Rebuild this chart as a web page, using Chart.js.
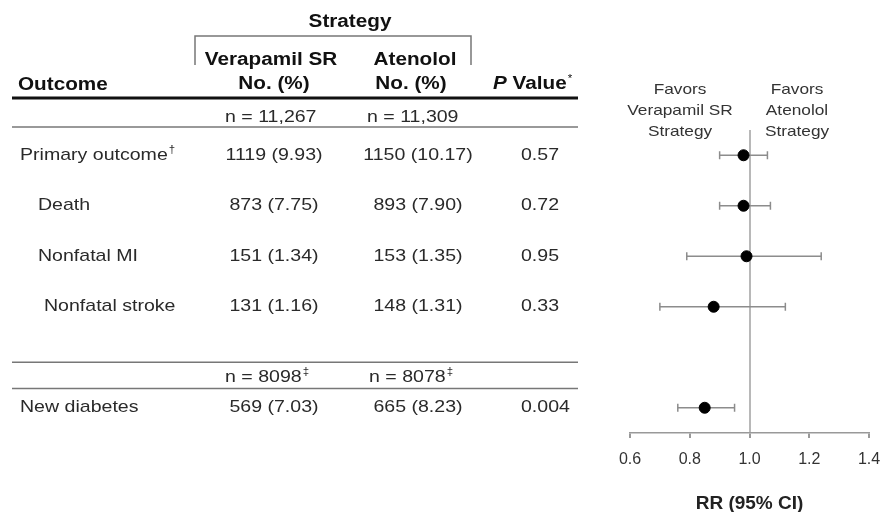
<!DOCTYPE html>
<html>
<head>
<meta charset="utf-8">
<script src="https://cdn.jsdelivr.net/npm/chart.js@4.4.1/dist/chart.umd.min.js"></script>
<style>
  html, body { margin: 0; padding: 0; background: #fff; }
  #wrap { width: 883px; height: 512px; position: relative; }
</style>
</head>
<body>
<div id="wrap"><canvas id="forest" width="883" height="512"></canvas></div>
<script>
// table + forest data
const outcomes = ['Primary outcome', 'Death', 'Nonfatal MI', 'Nonfatal stroke', 'New diabetes'];
const outcomeNotes = ['†', '', '', '', ''];
const rowIndex = [0, 1, 2, 3, 5];
const verapamilCounts = ['1119 (9.93)', '873 (7.75)', '151 (1.34)', '131 (1.16)', '569 (7.03)'];
const atenololCounts = ['1150 (10.17)', '893 (7.90)', '153 (1.35)', '148 (1.31)', '665 (8.23)'];
const pValues = ['0.57', '0.72', '0.95', '0.33', '0.004'];
const riskRatios = [0.98, 0.98, 0.99, 0.88, 0.85];
const ciLower = [0.90, 0.90, 0.79, 0.70, 0.76];
const ciUpper = [1.06, 1.07, 1.24, 1.12, 0.95];
const groupSizes = ['n = 11,267', 'n = 11,309'];
const diabetesGroupSizes = ['n = 8098', 'n = 8078'];
const xTicks = [0.6, 0.8, 1.0, 1.2, 1.4];

const FONT = '"Liberation Sans", Arial, sans-serif';
const SX = 1.15; // source text is a bit wide

function drawText(ctx, str, x, y, opts) {
    const o = Object.assign({ size: 17, weight: 'normal', style: 'normal', align: 'left', color: '#2a2a2a' }, opts);
    ctx.save();
    ctx.font = `${o.style} ${o.weight} ${o.size}px ${FONT}`;
    ctx.fillStyle = o.color;
    ctx.textBaseline = 'middle';
    ctx.textAlign = 'left';
    const w = ctx.measureText(str).width * SX;
    let left = x;
    if (o.align === 'center') left = x - w / 2;
    else if (o.align === 'right') left = x - w;
    ctx.translate(left, y);
    ctx.scale(SX, 1);
    ctx.fillText(str, 0, 0);
    ctx.restore();
    return left + w;
}

function hLine(ctx, x1, x2, y, width, color) {
    ctx.save();
    ctx.strokeStyle = color;
    ctx.lineWidth = width;
    ctx.beginPath();
    ctx.moveTo(x1, y);
    ctx.lineTo(x2, y);
    ctx.stroke();
    ctx.restore();
}

const tablePlugin = {
    id: 'outcomeTable',
    afterDraw(chart) {
        const ctx = chart.ctx;
        const yScale = chart.scales.y;
        const bold = { weight: 'bold', size: 18, color: '#111' };

        // header
        drawText(ctx, 'Strategy', 350, 22, Object.assign({}, bold, { align: 'center' }));
        ctx.save();
        ctx.strokeStyle = '#777';
        ctx.lineWidth = 1.5;
        ctx.beginPath();
        ctx.moveTo(195, 65); ctx.lineTo(195, 36); ctx.lineTo(471, 36); ctx.lineTo(471, 65);
        ctx.stroke();
        ctx.restore();
        drawText(ctx, 'Verapamil SR', 271, 60, Object.assign({}, bold, { align: 'center' }));
        drawText(ctx, 'No. (%)', 274, 84, Object.assign({}, bold, { align: 'center' }));
        drawText(ctx, 'Atenolol', 415, 60, Object.assign({}, bold, { align: 'center' }));
        drawText(ctx, 'No. (%)', 411, 84, Object.assign({}, bold, { align: 'center' }));
        drawText(ctx, 'Outcome', 18, 85, bold);
        let px = drawText(ctx, 'P', 493, 84, Object.assign({}, bold, { style: 'italic' }));
        px = drawText(ctx, ' Value', px, 84, bold);
        drawText(ctx, '*', px + 1, 79, { size: 10, color: '#111' });

        hLine(ctx, 12, 578, 98, 3, '#111');
        drawText(ctx, groupSizes[0], 225, 117);
        drawText(ctx, groupSizes[1], 367, 117);
        hLine(ctx, 12, 578, 127, 1.5, '#777');

        // body rows
        const indent = [20, 38, 38, 44, 20];
        outcomes.forEach((name, i) => {
            const y = yScale.getPixelForValue(rowIndex[i]);
            const end = drawText(ctx, name, indent[i], y);
            if (outcomeNotes[i]) drawText(ctx, outcomeNotes[i], end + 1, y - 5, { size: 10 });
            drawText(ctx, verapamilCounts[i], 274, y, { align: 'center' });
            drawText(ctx, atenololCounts[i], 418, y, { align: 'center' });
            drawText(ctx, pValues[i], 521, y);
        });

        // diabetes subgroup sizes
        hLine(ctx, 12, 578, yScale.getPixelForValue(4.1), 1.5, '#777');
        const ny = yScale.getPixelForValue(4.4);
        let e = drawText(ctx, diabetesGroupSizes[0], 225, ny);
        drawText(ctx, '‡', e + 1, ny - 5, { size: 10 });
        e = drawText(ctx, diabetesGroupSizes[1], 369, ny);
        drawText(ctx, '‡', e + 1, ny - 5, { size: 10 });
        hLine(ctx, 12, 578, yScale.getPixelForValue(4.62), 1.5, '#777');

        // favors labels
        const fav = { size: 15, color: '#333', align: 'center' };
        ['Favors', 'Verapamil SR', 'Strategy'].forEach((t, k) => drawText(ctx, t, 680, 90 + k * 21, fav));
        ['Favors', 'Atenolol', 'Strategy'].forEach((t, k) => drawText(ctx, t, 797, 90 + k * 21, fav));
    }
};

// one line dataset per CI, with vertical caps at the ends
const ciDatasets = outcomes.map((name, i) => ({
    type: 'line',
    label: name + ' CI',
    data: [{ x: ciLower[i], y: rowIndex[i] }, { x: ciUpper[i], y: rowIndex[i] }],
    borderColor: '#8c8c8c',
    borderWidth: 1.5,
    pointStyle: 'line',
    rotation: 90,
    pointRadius: 4,
    pointBorderColor: '#8c8c8c',
    pointBorderWidth: 1.5
}));

const rrDataset = {
    type: 'scatter',
    label: 'RR',
    data: riskRatios.map((v, i) => ({ x: v, y: rowIndex[i] })),
    pointRadius: 5.5,
    pointBackgroundColor: '#000',
    pointBorderColor: '#000'
};

new Chart(document.getElementById('forest'), {
    type: 'scatter',
    data: { datasets: [rrDataset, ...ciDatasets] },
    options: {
        responsive: false,
        animation: false,
        layout: { padding: { left: 630, right: 14, top: 130, bottom: 0 } },
        plugins: { legend: { display: false }, tooltip: { enabled: false } },
        scales: {
            x: {
                type: 'linear',
                min: 0.6,
                max: 1.4,
                afterBuildTicks: scale => { scale.ticks = xTicks.map(v => ({ value: v })); },
                afterFit: scale => {
                    scale.height = 79;
                    scale.paddingLeft = 0;
                    scale.paddingRight = 0;
                },
                ticks: {
                    callback: v => v.toFixed(1),
                    color: '#333',
                    font: { family: FONT, size: 16 },
                    padding: 12,
                    maxRotation: 0
                },
                grid: {
                    color: c => (c.tick && Math.abs(c.tick.value - 1) < 1e-9) ? '#b8b8b8' : 'rgba(0,0,0,0)',
                    lineWidth: 2,
                    tickColor: '#999',
                    tickLength: 5
                },
                border: { color: '#999', width: 1.5 },
                title: {
                    display: true,
                    text: 'RR (95% CI)',
                    color: '#222',
                    font: { family: FONT, size: 19, weight: 'bold' },
                    padding: { top: 0, bottom: -3 }
                }
            },
            y: {
                type: 'linear',
                min: -0.5,
                max: 5.5,
                reverse: true,
                display: false
            }
        }
    },
    plugins: [tablePlugin]
});
</script>
</body>
</html>
